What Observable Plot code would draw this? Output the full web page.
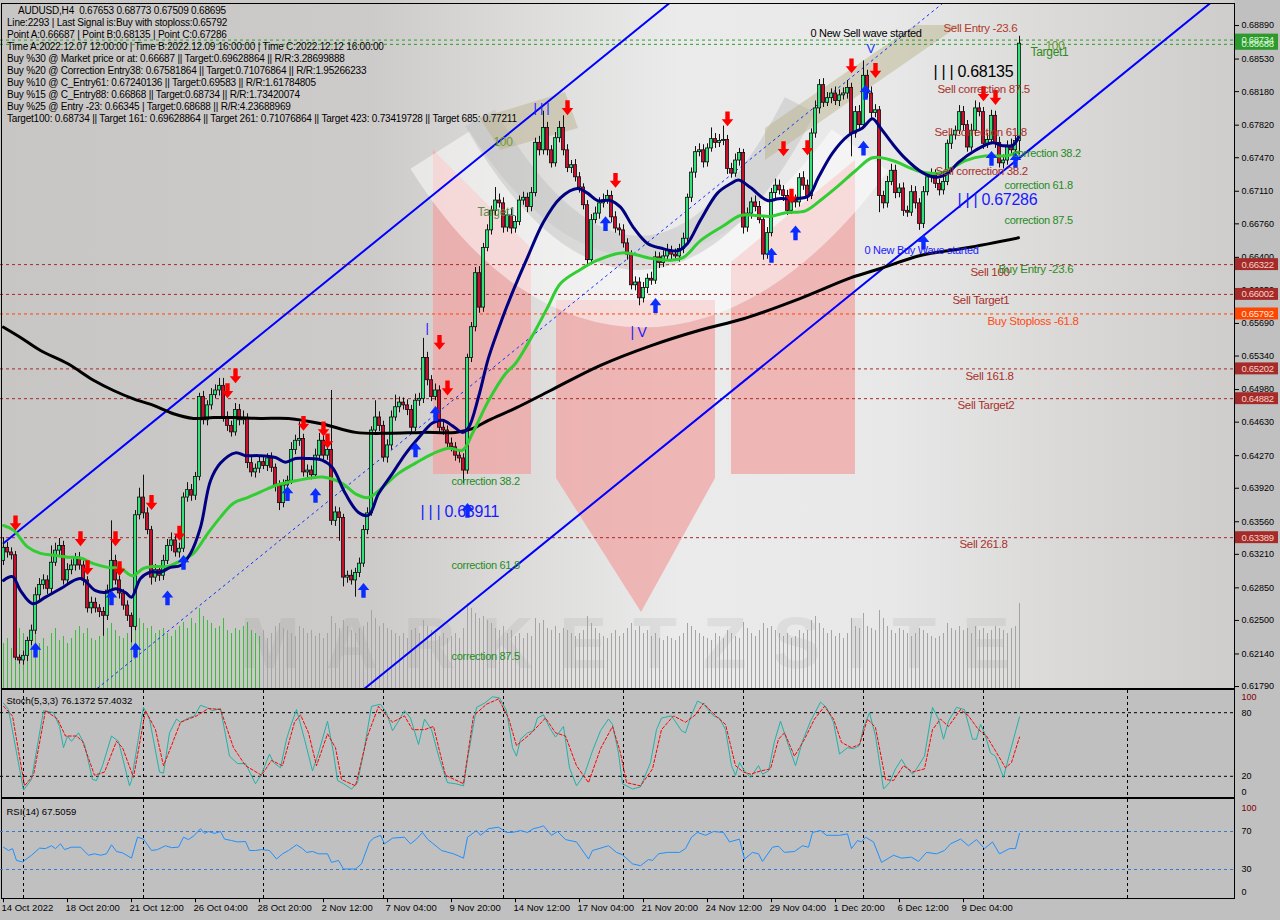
<!DOCTYPE html>
<html>
<head>
<meta charset="utf-8">
<title>AUDUSD H4</title>
<script src="https://cdn.jsdelivr.net/npm/d3@7"></script>
<script src="https://cdn.jsdelivr.net/npm/@observablehq/plot@0.6"></script>
<style>
  html, body { margin:0; padding:0; background:#c0c0c0; }
  #wrap { position:relative; width:1280px; height:920px; overflow:hidden; background:#c0c0c0; font-family:"Liberation Sans", Arial, sans-serif; }
  .abs { position:absolute; left:0; }
  #info { position:absolute; left:7px; top:5px; font-size:10px; line-height:12px; letter-spacing:-0.2px; color:#000; white-space:pre; z-index:5; }
  .box { position:absolute; box-sizing:border-box; border:1px solid #000; }
  #main g[aria-label="text"] text { letter-spacing:-0.3px; }
</style>
</head>
<body>
<div id="wrap">
  <svg id="bg" class="abs" style="top:0" width="1234" height="688">
    <defs>
      <linearGradient id="g1" x1="0" y1="0" x2="1" y2="0">
        <stop offset="0" stop-color="#c8c6c4"/>
        <stop offset="0.30" stop-color="#cdcbc9"/>
        <stop offset="0.42" stop-color="#dcdbda"/>
        <stop offset="0.55" stop-color="#ebebeb"/>
        <stop offset="0.72" stop-color="#e8e8e8"/>
        <stop offset="0.86" stop-color="#dad9d8"/>
        <stop offset="1" stop-color="#cfcdcc"/>
      </linearGradient>
    </defs>
    <rect x="0" y="0" width="1234" height="688" fill="url(#g1)"/>
    <polygon points="433,150 531,248 531,474 433,474" fill="#f0a4a4" opacity="0.75"/>
    <polygon points="731,262 855,160 855,474 731,474" fill="#f0a4a4" opacity="0.75"/>
    <polygon points="556,300 715,300 715,478 641,612 556,478" fill="#f0a4a4" opacity="0.75"/>
    <path d="M 440,150 C 560,340 720,340 860,150" fill="none" stroke="#ffffff" stroke-width="70" opacity="0.5"/>
    <path d="M 480,118 C 585,300 700,300 800,105" fill="none" stroke="#bdbdbd" stroke-width="34" opacity="0.45"/>
    <polygon points="480,118 565,92 578,128 500,150" fill="#b8b088" opacity="0.45"/>
    <polygon points="765,128 915,25 960,25 765,160" fill="#b8b088" opacity="0.45"/>
    <text x="240" y="668" font-family="Liberation Sans, Arial" font-weight="bold" font-size="72" textLength="770" fill="rgba(120,120,120,0.11)">MARKETZSITE</text>
  </svg>
  <div id="vol" class="abs" style="top:598px"></div>
  <div id="main" class="abs" style="top:0"></div>
  <div class="box" style="left:1px;top:3px;width:1234px;height:686px;"></div>
  <div class="box" style="left:1px;top:689px;width:1234px;height:109px;"></div>
  <div class="box" style="left:1px;top:798px;width:1234px;height:101px;"></div>
  <div id="stoch" class="abs" style="top:689px"></div>
  <div id="rsi" class="abs" style="top:799px"></div>
  <div id="info"></div>
</div>
<script>
// ---------------- DATA ----------------
const firstOpen = 0.6314;
const closes = [
.6328,.6323,.6320,.6210,.6207,.6212,.6228,.6239,.6277,.6288,
.6293,.6284,.6312,.6325,.6330,.6293,.6304,.6309,.6317,.6309,
.6293,.6263,.6269,.6263,.6259,.6255,.6282,.6314,.6293,.6279,
.6266,.6255,.6243,.6363,.6382,.6365,.6347,.6296,.6304,.6298,
.6314,.6330,.6336,.6323,.6327,.6382,.6390,.6384,.6404,.6490,
.6465,.6481,.6492,.6497,.6502,.6468,.6459,.6452,.6476,.6465,
.6467,.6419,.6409,.6413,.6420,.6416,.6424,.6414,.6395,.6376,
.6395,.6400,.6433,.6443,.6445,.6409,.6411,.6406,.6427,.6443,
.6427,.6433,.6357,.6366,.6360,.6296,.6298,.6293,.6301,.6311,
.6347,.6365,.6454,.6468,.6459,.6425,.6438,.6468,.6479,.6484,
.6481,.6476,.6457,.6486,.6488,.6532,.6508,.6490,.6497,.6457,
.6454,.6440,.6436,.6427,.6424,.6411,.6532,.6565,.6623,.6586,
.6650,.6669,.6690,.6701,.6698,.6672,.6685,.6671,.6678,.6701,
.6704,.6694,.6709,.6763,.6755,.6779,.6755,.6741,.6768,.6779,
.6755,.6736,.6739,.6726,.6715,.6696,.6637,.6680,.6687,.6698,
.6701,.6706,.6683,.6671,.6669,.6655,.6643,.6610,.6613,.6596,
.6607,.6617,.6615,.6640,.6634,.6641,.6647,.6643,.6641,.6649,
.6660,.6704,.6731,.6753,.6755,.6742,.6757,.6767,.6763,.6765,
.6766,.6735,.6730,.6744,.6752,.6672,.6687,.6699,.6694,.6680,
.6643,.6666,.6709,.6717,.6712,.6706,.6690,.6701,.6699,.6725,
.6717,.6706,.6773,.6800,.6825,.6806,.6811,.6816,.6808,.6814,
.6816,.6822,.6773,.6796,.6782,.6835,.6816,.6795,.6798,.6706,
.6698,.6721,.6733,.6709,.6714,.6690,.6688,.6710,.6698,.6676,
.6710,.6726,.6728,.6719,.6712,.6721,.6762,.6771,.6776,.6796,
.6782,.6758,.6776,.6800,.6796,.6762,.6766,.6792,.6763,.6741,
.6744,.6760,.6755,.6765,.68695
];
// upper / lower wick lengths in pips
const wickUp = [
11,6,5,4,3,5,4,6,8,7, 6,5,18,8,8,5,7,6,5,6, 5,4,6,5,4,5,6,43,6,5, 4,5,3,5,10,24,6,4,6,5,
6,7,8,5,6,5,8,6,5,4, 6,5,7,6,8,8,6,5,7,6, 8,5,6,5,7,6,5,6,4,5, 6,5,8,6,18,5,6,5,7,8,
6,7,64,6,5,4,5,6,5,6, 5,6,4,18,6,5,6,7,13,6, 5,6,5,7,6,21,6,5,7,5, 6,5,6,5,6,5,4,5,6,7,
5,6,5,14,7,6,5,7,6,5, 6,5,6,5,7,18,6,5,6,7, 13,6,5,6,5,4,5,6,7,6, 7,6,5,6,5,6,5,4,6,5,
6,5,7,6,5,6,7,5,6,5, 6,4,5,6,7,6,5,12,6,7, 15,5,6,7,5,4,6,5,7,6, 5,6,5,7,6,5,6,7,6,5,
7,6,5,8,6,7,6,5,7,6, 6,8,5,6,7,16,6,7,6,4, 5,6,7,6,5,6,5,7,6,5, 6,5,7,6,5,6,4,6,5,7,
6,5,7,8,6,5,7,6,5,6, 6,5,7,6,8
];
const wickDn = [
5,6,5,3,4,5,6,5,4,6, 5,6,5,4,6,5,6,5,6,5, 6,5,6,5,6,22,5,6,5,6, 5,6,17,4,5,6,5,8,5,6,
5,4,6,5,6,4,5,6,5,4, 5,6,5,4,6,5,6,5,4,6, 5,6,5,6,5,4,6,5,7,8, 5,6,4,5,6,5,6,5,4,5,
6,5,5,6,25,10,6,5,18,5, 4,5,3,5,6,5,6,5,4,6, 5,6,5,4,6,5,6,5,4,6, 5,6,5,6,5,14,4,5,5,6,
5,4,5,6,5,6,5,6,5,4, 5,6,5,4,6,5,6,5,4,5, 6,5,6,5,6,5,6,5,4,6, 5,4,6,5,6,5,6,5,6,8,
5,6,5,4,6,5,4,6,5,6, 5,4,5,6,5,6,5,4,6,5, 5,6,5,4,6,7,5,6,5,4, 6,5,4,6,5,6,5,4,6,5,
5,6,4,5,6,5,4,6,5,6, 5,6,25,5,6,4,5,6,5,18, 6,5,4,6,5,6,5,4,6,7, 5,4,6,5,6,5,4,6,5,4,
6,5,4,6,5,6,5,4,6,5, 6,5,4,6,15
];
const volume = [
45,50,40,70,60,55,48,52,58,45, 50,42,55,60,48,52,45,50,58,62, 55,60,50,48,52,55,60,65,58,52,
50,55,60,78,70,65,60,62,55,58, 60,55,52,58,62,66,60,70,65,80, 72,68,65,60,62,70,58,55,60,58,
62,66,58,55,52,58,50,55,62,65, 60,58,55,52,62,60,55,58,52,55, 50,55,72,65,60,68,62,58,55,60,
62,66,78,70,62,65,60,58,55,52, 55,50,58,60,55,68,62,58,55,52, 55,50,52,55,50,60,85,80,75,70,
72,68,65,60,58,62,55,58,52,55, 50,55,52,70,65,68,60,58,62,55, 60,58,55,52,55,58,72,65,60,55,
52,50,55,58,52,55,60,65,58,62, 55,58,52,55,50,48,52,50,48,52, 55,65,62,58,55,52,50,48,55,52,
50,58,55,52,50,66,60,55,52,58, 65,60,62,58,55,52,55,50,52,58, 55,58,68,72,65,60,55,58,52,55,
50,55,70,62,60,75,62,60,58,78, 70,62,58,55,60,58,55,52,55,60, 58,55,52,50,52,55,65,60,58,62,
58,60,55,62,58,60,55,58,62,60, 58,55,60,62,85
];
// moving averages: [bar, price]
const maBlue = [[0,.6293],[2.25,.6297],[4.25,.6282],[7.25,.6268],[10.5,.6275],[14.25,.6284],[19.25,.6295],[23,.6282],[25.5,.6280],[28,.6284],[30.5,.6280],[32,.6275],[34.25,.6295],[36.75,.6302],[39.25,.6302],[41.75,.6307],[44.25,.6309],[46.75,.6322],[49.25,.6350],[51.75,.6400],[54.25,.6419],[58,.6430],[60.5,.6427],[63.75,.6427],[68,.6425],[70.5,.6420],[73,.6424],[75.5,.6424],[79.75,.6422],[82.25,.6414],[85.5,.6386],[88.75,.6366],[91.25,.6363],[93.75,.6386],[97.25,.6408],[100.5,.6429],[103.75,.6446],[107.25,.6462],[109.75,.6465],[112.25,.6459],[114.75,.6452],[116.25,.6457],[118.75,.6490],[121.25,.6532],[124.75,.6575],[127.5,.6605],[131,.6640],[135,.6678],[139.25,.6704],[143.5,.6714],[146,.6709],[148.5,.6701],[151.75,.6701],[154.25,.6694],[157.5,.6672],[161,.6655],[164.25,.6650],[168.5,.6647],[171,.6655],[174.25,.6680],[178.5,.6709],[181.75,.6719],[183.75,.6723],[186.75,.6715],[191,.6701],[193.75,.6703],[197.25,.6703],[201.25,.6706],[203.75,.6726],[207.25,.6752],[211.25,.6771],[214.75,.6779],[217.25,.6789],[219.25,.6779],[222.25,.6762],[225.5,.6746],[229.75,.6731],[233,.6726],[236,.6730],[238.75,.6742],[243,.6755],[247.25,.6763],[249.75,.6760],[252.25,.6760],[253.75,.6769]];
const maGreen = [[0,.6352],[2.5,.6347],[6,.6329],[9.25,.6322],[12.5,.6320],[16,.6318],[19.25,.6317],[22.5,.6311],[26,.6307],[29.25,.6306],[32.25,.6298],[35,.6306],[37.5,.6308],[41,.6308],[44.25,.6314],[47.5,.6322],[51,.6343],[54.25,.6361],[57.5,.6376],[61,.6382],[64.25,.6388],[68,.6395],[73,.6400],[79.75,.6404],[84.75,.6397],[88,.6386],[91.25,.6382],[94.75,.6393],[98.75,.6408],[103,.6419],[107.25,.6429],[111.25,.6435],[114.75,.6433],[117.25,.6451],[121.25,.6486],[125.5,.6515],[128,.6526],[132.5,.6558],[136,.6586],[139.25,.6612],[144.25,.6627],[148.5,.6637],[155,.6645],[161.75,.6639],[166.75,.6637],[170,.6640],[174.25,.6658],[180,.6674],[184.25,.6685],[188.5,.6685],[191.75,.6684],[195.5,.6688],[200.5,.6690],[204.75,.6703],[208.75,.6717],[213,.6733],[217.25,.6747],[222.25,.6744],[227.25,.6735],[230.5,.6731],[234.75,.6731],[240.5,.6744],[245.5,.6749],[250.5,.6749],[253.75,.6753]];
const maBlack = [[0,.6565],[4.25,.6554],[9.25,.6540],[16,.6526],[22.5,.6508],[27.5,.6497],[32.5,.6488],[37.5,.6481],[42.5,.6472],[47.5,.6467],[52.5,.6468],[57.5,.6468],[64.25,.6467],[71.25,.6467],[79.75,.6461],[88,.6452],[96.25,.6451],[104.75,.6452],[113,.6452],[117.25,.6456],[121.25,.6465],[128,.6478],[136.75,.6497],[149.25,.6524],[161.75,.6545],[174.25,.6562],[185,.6574],[199.25,.6596],[211.75,.6618],[219.25,.6628],[229.25,.6642],[240.5,.6650],[253.75,.6661]];
// trend channel: [bar, price]
const channelUpper = [[0,.6333],[254,.7218]];
const channelLower = [[80,.6141],[310,.6942]];
const channelMid = [[20,.6165],[240,.6931]];
// horizontal levels
const levelPrices = [0.68734, 0.68688, 0.66322, 0.66002, 0.65792, 0.65202, 0.64882, 0.63389];
const levelColors = ["#2e9a2e","#2e9a2e","#a52a2a","#a52a2a","#ff4500","#a52a2a","#a52a2a","#a52a2a"];
const levelTextColors = ["#dcfadc","#dcfadc","#f6d2c4","#f6d2c4","#ffe6d6","#f6d2c4","#f6d2c4","#f6d2c4"];
const priceTicks = [0.68890,0.68530,0.68180,0.67820,0.67470,0.67110,0.66760,0.66400,0.66050,0.65690,0.65340,0.64980,0.64630,0.64270,0.63920,0.63560,0.63210,0.62850,0.62500,0.62140,0.61790];
// signal arrows [bar, price]
const downArrows = [[3,.6355],[19.25,.6338],[21,.6307],[28,.6338],[29,.6306],[37,.6377],[44,.6344],[56,.6497],[58,.6513],[75,.6462],[80,.6456],[81,.6443],[109,.6549],[111,.6500],[141,.6801],[153,.6723],[181,.6789],[195,.6757],[197,.6706],[201,.6758],[212,.6846],[218,.6841],[245,.6816],[248,.6812]];
const upArrows = [[8,.6218],[27,.6274],[33,.6218],[41,.6274],[45,.6312],[71,.6386],[78,.6384],[90,.6282],[103,.6433],[108,.6472],[116,.6368],[150.5,.6676],[163,.6588],[192,.6642],[198,.6666],[215,.6757],[215.5,.6817],[230,.6656],[247,.6746],[253,.6744]];
// chart annotations
const noteBars = [235,201.75,215.75,260.5,256.75,233.5,232.75,252.25,233,250.25,250.25,215.25,241.75,248.75,237.25,246,240.5,238.5,239,112,112,112,122.5,118.5,132.5,156.75,105.5];
const notePrices = [.6886,.6880,.6864,.6867,.6860,.6821,.6774,.6752,.6732,.6717,.6680,.6647,.6624,.6627,.6594,.6571,.6512,.6481,.6332,.6399,.6309,.6211,.6764,.6689,.6801,.6559,.6564];
const noteTexts = ["Sell Entry -23.6","0 New Sell wave started","V","100","Target1","Sell correction 87.5","Sell correction 61.8","correction 38.2","Sell correction 38.2","correction 61.8","correction 87.5","0 New Buy Wave started","Sell 100","Buy Entry -23.6","Sell Target1","Buy Stoploss -61.8","Sell 161.8","Sell Target2","Sell 261.8","correction 38.2","correction 61.8","correction 87.5","100","Target1","| | |","| V","|"];
const noteColors = ["#b23a2a","#000000","#2030ff","#6e9a30","#2e8b22","#a8302a","#a8302a","#1e8c1e","#a8302a","#1e8c1e","#1e8c1e","#1a1aff","#a8302a","#2e8b22","#a8302a","#ff4a10","#a8302a","#a8302a","#a8302a","#1e8c1e","#1e8c1e","#1e8c1e","#6e9a30","#5a8a4a","#1a1aff","#1a1aff","#1a1aff"];
const noteSizes = [11.5,11,13,12,12,11.5,11.5,11,11.5,11,11,11,11.5,11.5,11.5,11.5,11.5,11.5,11.5,11,11,11,12,12,13,14,13];
const bigBars = [232.5, 238.5, 104.25];
const bigPrices = [.6839, .6702, .6367];
const bigTexts = ["| | | 0.68135", "| | | 0.67286", "| | | 0.63911"];
const bigColors = ["#000000", "#1a1aff", "#1a1aff"];
// stochastic (5,3,3): [bar, value]
const stochK = [[0,89],[1.25,83],[5,7],[7,17],[10,82],[12.5,80],[14,67],[15,47],[16,58],[17,53],[18.75,61],[20.25,50],[22.25,17],[23.25,16],[24.75,30],[27,58],[28.75,53],[31.5,11],[32,16],[35,85],[36.5,74],[39,24],[40,23],[41.5,61],[43.25,74],[44.25,71],[46.25,75],[47.75,77],[49.25,87],[50.75,85],[52.25,82],[54.25,84],[56.5,39],[58.5,32],[60.5,32],[63,13],[64.5,22],[66.5,41],[67.5,33],[69.25,28],[70.75,55],[71.75,67],[73.25,83],[75.25,55],[77.25,25],[78.75,42],[81,72],[82.5,42],[83.5,16],[85,13],[87,8],[88.5,14],[90,42],[92,86],[94.25,88],[95.75,80],[97.25,63],[98.75,72],[100.25,82],[101.75,75],[103.75,50],[105.25,74],[107,64],[109,36],[111,14],[113,13],[115,11],[116,36],[118.25,85],[120.25,89],[122.25,95],[124,94],[125.75,82],[127.25,47],[128.25,39],[129.25,55],[131,61],[132.5,63],[133.5,75],[135,78],[136.5,66],[138,57],[140,67],[141.5,28],[143.25,11],[145.25,22],[147.25,44],[149.25,63],[151.25,74],[152.25,69],[153.75,42],[154.75,13],[157.25,8],[159.25,10],[161.75,33],[163.25,64],[164.5,75],[167,77],[169.5,63],[170.5,61],[172,78],[173.5,91],[175,88],[177.5,77],[179,75],[180.5,64],[182,30],[183,21],[184,33],[185.25,25],[186.75,19],[188.75,30],[189.75,22],[191.25,25],[192.75,53],[194.25,72],[196.25,49],[198,30],[199.75,53],[201.75,72],[204.25,90],[205.75,85],[207.5,71],[209,41],[211,47],[212.5,46],[214,49],[215,66],[216.5,80],[218,58],[220,8],[221.5,14],[223,27],[224.5,36],[225.5,30],[227.25,22],[228.25,27],[230.25,39],[232.25,85],[233.75,74],[235,55],[236.25,72],[238.25,85],[240.25,83],[242.25,55],[243.25,55],[244.25,69],[245.25,61],[246.75,42],[248,39],[250,19],[251.5,41],[254,76]];
const stochD = [[0,86],[2.25,77],[5.25,11],[7.5,21],[10.5,82],[13.5,74],[15.5,58],[18.25,58],[19.75,53],[22.75,21],[25.25,24],[28.25,53],[29.75,47],[32.5,19],[35.5,82],[38,64],[40,30],[42,49],[44.25,71],[48.25,77],[51.25,84],[54.25,83],[57.5,47],[60.5,30],[64.5,21],[67,35],[69.75,30],[72.75,71],[74.25,78],[76.25,61],[78.25,30],[81,60],[83,47],[84.5,17],[88,11],[91,58],[93.75,86],[97.25,71],[100.25,77],[102.25,64],[105.25,64],[107.5,67],[110.5,21],[115,13],[117.5,77],[120.75,88],[123.75,93],[126.25,75],[128.25,49],[132,61],[135.5,75],[138,61],[140.5,58],[143.25,30],[146.25,14],[149.25,46],[152.25,67],[154.25,42],[155.75,14],[159.25,11],[162.25,27],[164.5,64],[167.5,77],[170.5,71],[173,78],[175,89],[178,77],[180.5,69],[183,30],[185,24],[186.75,22],[189.25,25],[191.75,27],[193.75,55],[195.25,61],[197.75,39],[200.25,55],[202.75,74],[205.25,86],[207.5,74],[209.5,52],[212,47],[214,50],[216,74],[218,66],[220.5,17],[222.5,16],[225,30],[227.25,24],[230.25,27],[232.25,64],[234.25,74],[236.25,67],[239.25,83],[241.25,77],[243.75,64],[245.75,58],[248,44],[250.5,28],[252,33],[254,57]];
// RSI(14): [bar, value]
const rsi = [[0,53.5],[1.25,50],[2.25,52],[3.25,39.5],[4.75,38],[7,45],[9,52.5],[10.5,52],[12,55],[13,52],[14.25,57],[15.25,51],[17,53.5],[19.25,53.5],[21.25,45],[22.75,46.5],[24.25,45],[25.75,46.5],[27,56],[28.25,49],[29.75,47.5],[32,42],[33.5,64],[35,62],[37,50],[38.5,51],[40.5,55],[42,53],[43.75,53.5],[45,64],[46.25,61.5],[47.75,66],[49.25,73],[50.25,68],[51.25,70],[52.75,68],[54.25,70],[55.25,62],[57,60.5],[58.5,59],[60.5,59.5],[61.5,50],[63,50],[64.5,51],[66.5,50],[68.25,41],[69.75,46.5],[71.25,50],[73.25,56],[74.75,52],[75.75,48],[77.25,49],[78.75,46.5],[81,46.5],[82,37.5],[83.75,39.5],[85,30.5],[88,30.5],[89.5,36],[91.5,59],[92.5,63],[94.25,66],[95.25,57],[97.25,63],[100.25,64],[101.75,57],[103.25,62],[104.75,69],[106,62],[109.5,50],[112.5,46.5],[115,42],[116,64],[118.25,71],[119.25,66],[121.25,73],[123.75,74.5],[125.75,69],[127.25,69],[129.25,71],[131,69],[132.5,73],[134,74.5],[135,76],[137,66],[138.5,70],[140.5,61.5],[143.25,59],[146.25,41],[147.25,50],[151.25,55],[153.25,48],[154.75,45.5],[157.25,36],[159.25,34],[161.25,40.5],[162.25,39.5],[163.75,46.5],[166,48],[169,48],[170.5,52],[172,64],[173.5,69],[175.5,66],[177.5,70],[180,69],[181.5,59],[184,62],[185.25,41],[187.25,48],[188.75,46.5],[189.75,38.5],[192.25,53.5],[193.75,54.5],[195.25,48],[197.75,49],[199.75,55],[201.25,53.5],[202.25,69],[204.25,71],[205.75,66],[209,66],[211,67.5],[212,52],[213.5,60.5],[214.5,59],[215.5,64],[217.5,59],[219.5,37.5],[222.5,45],[224.5,42],[227,43],[228.75,38.5],[230.75,48],[233.25,46.5],[235.25,50],[236.75,57],[239.25,62],[241.25,55],[243.25,61.5],[245.25,52],[247.25,59],[249,46.5],[251.5,52],[253,52],[254,68]];
// time axis
const dateLabels = ["14 Oct 2022","18 Oct 20:00","21 Oct 12:00","26 Oct 04:00","28 Oct 20:00","2 Nov 12:00","7 Nov 04:00","9 Nov 20:00","14 Nov 12:00","17 Nov 04:00","21 Nov 20:00","24 Nov 12:00","29 Nov 04:00","1 Dec 20:00","6 Dec 12:00","9 Dec 04:00"];
const dateBars = [0,16,32,48,64,80,96,112,128,144,160,176,192,208,224,240];
const gridBars = [5,35,65,95,125,155,185,215,245,281];
const infoLines = [
"AUDUSD,H4  0.67653 0.68773 0.67509 0.68695",
"Line:2293 | Last Signal is:Buy with stoploss:0.65792",
"Point A:0.66687 | Point B:0.68135 | Point C:0.67286",
"Time A:2022.12.07 12:00:00 | Time B:2022.12.09 16:00:00 | Time C:2022.12.12 16:00:00",
"Buy %30 @ Market price or at: 0.66687 || Target:0.69628864 || R/R:3.28699888",
"Buy %20 @ Correction Entry38: 0.67581864 || Target:0.71076864 || R/R:1.95266233",
"Buy %10 @ C_Entry61: 0.67240136 || Target:0.69583 || R/R:1.61784805",
"Buy %15 @ C_Entry88: 0.66868 || Target:0.68734 || R/R:1.73420074",
"Buy %25 @ Entry -23: 0.66345 | Target:0.68688 || R/R:4.23688969",
"Target100: 0.68734 || Target 161: 0.69628864 || Target 261: 0.71076864 || Target 423: 0.73419728 || Target 685: 0.77211"
];

// ---------------- BUILD ----------------
const xDomain = [-0.75, 307.75];
const AXB = 309.5;            // bar position of axis labels (right margin)
const FONT = "Liberation Sans, Arial, sans-serif";
const bull = "#33e07a", bear = "#c8102e";

const candles = closes.map((c, i) => {
  const o = i === 0 ? firstOpen : closes[i - 1];
  return {i, o, c, h: Math.max(o, c) + wickUp[i] / 10000, l: Math.min(o, c) - wickDn[i] / 10000};
});
const vol = volume.map((v, i) => ({i, v}));
const levels = levelPrices.map((p, k) => ({p, c: levelColors[k], tc: levelTextColors[k]}));
const notes = noteTexts.map((t, k) => ({t, i: noteBars[k], p: notePrices[k], c: noteColors[k], s: noteSizes[k]}));
const bigs = bigTexts.map((t, k) => ({t, i: bigBars[k], p: bigPrices[k], c: bigColors[k]}));

const arrowUp = {draw(ctx, size) {
  const r = Math.sqrt(size / Math.PI);
  ctx.moveTo(0, -1.4 * r); ctx.lineTo(1.05 * r, -0.1 * r); ctx.lineTo(0.4 * r, -0.1 * r);
  ctx.lineTo(0.4 * r, 1.3 * r); ctx.lineTo(-0.4 * r, 1.3 * r); ctx.lineTo(-0.4 * r, -0.1 * r);
  ctx.lineTo(-1.05 * r, -0.1 * r); ctx.closePath();
}};
const arrowDown = {draw(ctx, size) {
  const r = Math.sqrt(size / Math.PI);
  ctx.moveTo(0, 1.4 * r); ctx.lineTo(1.05 * r, 0.1 * r); ctx.lineTo(0.4 * r, 0.1 * r);
  ctx.lineTo(0.4 * r, -1.3 * r); ctx.lineTo(-0.4 * r, -1.3 * r); ctx.lineTo(-0.4 * r, 0.1 * r);
  ctx.lineTo(-1.05 * r, 0.1 * r); ctx.closePath();
}};

// volume (behind the price chart)
const volPlot = Plot.plot({
  width: 1280, height: 90, marginLeft: 0, marginRight: 46, marginTop: 0, marginBottom: 0,
  x: {domain: xDomain, axis: null},
  y: {domain: [0, 90], axis: null},
  color: {type: "identity"},
  style: {background: "transparent"},
  marks: [
    Plot.ruleX(vol, {x: "i", y1: () => 0, y2: "v", stroke: d => d.i < 65 ? "#3cbc3c" : "#a4a4a4", strokeWidth: 1})
  ]
});
document.getElementById("vol").append(volPlot);

// main price chart
const mainPlot = Plot.plot({
  width: 1280, height: 688, marginLeft: 0, marginRight: 46, marginTop: 4, marginBottom: 0,
  x: {domain: xDomain, axis: null},
  y: {domain: [0.61769, 0.69159], range: [688, 0]},
  color: {type: "identity"},
  style: {background: "transparent", fontFamily: FONT, fontSize: "9px", overflow: "visible", color: "#000"},
  marks: [
    Plot.ruleY(levels, {y: "p", stroke: "c", strokeWidth: 1, strokeDasharray: "3,3"}),
    Plot.line(channelUpper, {x: d => d[0], y: d => d[1], stroke: "#0000ff", strokeWidth: 2, clip: true}),
    Plot.line(channelLower, {x: d => d[0], y: d => d[1], stroke: "#0000ff", strokeWidth: 2, clip: true}),
    Plot.line(channelMid, {x: d => d[0], y: d => d[1], stroke: "#1030ff", strokeWidth: 1, strokeDasharray: "2,4", clip: true}),
    Plot.ruleX(candles, {x: "i", y1: "l", y2: "h", stroke: "#111", strokeWidth: 1}),
    Plot.rect(candles, {x1: d => d.i - 0.4, x2: d => d.i + 0.4, y1: "o", y2: "c",
      fill: d => d.c >= d.o ? bull : bear, stroke: "#111", strokeWidth: 0.8}),
    Plot.line(maBlack, {x: d => d[0], y: d => d[1], stroke: "#000", strokeWidth: 3, curve: "catmull-rom"}),
    Plot.line(maGreen, {x: d => d[0], y: d => d[1], stroke: "#32cd32", strokeWidth: 3, curve: "catmull-rom"}),
    Plot.line(maBlue, {x: d => d[0], y: d => d[1], stroke: "#000080", strokeWidth: 3, curve: "catmull-rom"}),
    Plot.dot(upArrows, {x: d => d[0], y: d => d[1], symbol: arrowUp, r: 5.5, fill: "#0a2cff", stroke: "none"}),
    Plot.dot(downArrows, {x: d => d[0], y: d => d[1], symbol: arrowDown, r: 5.5, fill: "#ff0000", stroke: "none"}),
    Plot.text(notes, {x: "i", y: "p", text: "t", fill: "c", fontSize: d => d.s, textAnchor: "start", fontFamily: FONT}),
    Plot.text(bigs, {x: "i", y: "p", text: "t", fill: "c", fontSize: 16, textAnchor: "start", fontFamily: FONT}),
    Plot.axisY({anchor: "right", ticks: priceTicks, tickFormat: d3.format(".5f"), tickSize: 4, tickPadding: 3,
      fontSize: 9, label: null, stroke: "#000", fill: "#000"}),
    Plot.rect(levels, {x1: () => 308, x2: () => 318.75, y1: d => d.p - 0.00064, y2: d => d.p + 0.00064, fill: "c"}),
    Plot.text(levels, {x: () => AXB, y: "p", text: d => d3.format(".5f")(d.p), fill: "tc", textAnchor: "start", fontSize: 9.5})
  ]
});
document.getElementById("main").append(mainPlot);

// stochastic panel
const stochPlot = Plot.plot({
  width: 1280, height: 110, marginLeft: 0, marginRight: 46, marginTop: 1, marginBottom: 2,
  x: {domain: xDomain, axis: null},
  y: {domain: [0, 100], range: [108, 2], axis: null},
  style: {background: "transparent", fontFamily: FONT, fontSize: "9.5px", overflow: "visible"},
  marks: [
    Plot.ruleY([20, 80], {stroke: "#000", strokeDasharray: "3,3"}),
    Plot.ruleX(gridBars, {stroke: "#000", strokeDasharray: "3,3"}),
    Plot.line(stochK, {x: d => d[0], y: d => d[1], stroke: "#20b2aa", strokeWidth: 1}),
    Plot.line(stochD, {x: d => d[0], y: d => d[1], stroke: "#ff0000", strokeWidth: 1, strokeDasharray: "3,2"}),
    Plot.text(["Stoch(5,3,3) 76.1372 57.4032"], {frameAnchor: "top-left", dx: 6, dy: 7, textAnchor: "start", fill: "#000"}),
    Plot.text([{v: 94.5, t: "100", c: "#800000"}, {v: 80, t: "80", c: "#000"}, {v: 20, t: "20", c: "#000"}, {v: 5.5, t: "0", c: "#000"}],
      {x: () => AXB, y: "v", text: "t", fill: d => d.c, textAnchor: "start", fontSize: 9})
  ]
});
document.getElementById("stoch").append(stochPlot);

// RSI panel with time axis
const rsiPlot = Plot.plot({
  width: 1280, height: 121, marginLeft: 0, marginRight: 46, marginTop: 0, marginBottom: 22,
  x: {domain: xDomain, axis: null},
  y: {domain: [0, 100], range: [98.5, 3.5], axis: null},
  style: {background: "transparent", fontFamily: FONT, fontSize: "9.5px", overflow: "visible"},
  marks: [
    Plot.ruleY([30, 70], {stroke: "#3a78c8", strokeDasharray: "3,3"}),
    Plot.ruleX(gridBars, {stroke: "#000", strokeDasharray: "3,3"}),
    Plot.line(rsi, {x: d => d[0], y: d => d[1], stroke: "#1e90ff", strokeWidth: 1}),
    Plot.text(["RSI(14) 67.5059"], {frameAnchor: "top-left", dx: 6, dy: 9, textAnchor: "start", fill: "#000"}),
    Plot.text([{v: 95, t: "100", c: "#800000"}, {v: 70, t: "70", c: "#000"}, {v: 30, t: "30", c: "#000"}, {v: 6, t: "0", c: "#000"}],
      {x: () => AXB, y: "v", text: "t", fill: d => d.c, textAnchor: "start", fontSize: 9}),
    Plot.ruleX(dateBars, {x: d => d, y1: () => -0.5, y2: () => -5, stroke: "#000"}),
    Plot.text(dateLabels, {x: (d, k) => dateBars[k], y: () => -11, text: d => d, textAnchor: "start", dx: -2, fill: "#000", fontSize: 9.5})
  ]
});
document.getElementById("rsi").append(rsiPlot);

// info text block
const info = document.getElementById("info");
infoLines.forEach((t, k) => {
  const div = document.createElement("div");
  div.textContent = t;
  if (k === 0) div.style.paddingLeft = "11px";
  info.append(div);
});
</script>
</body>
</html>
